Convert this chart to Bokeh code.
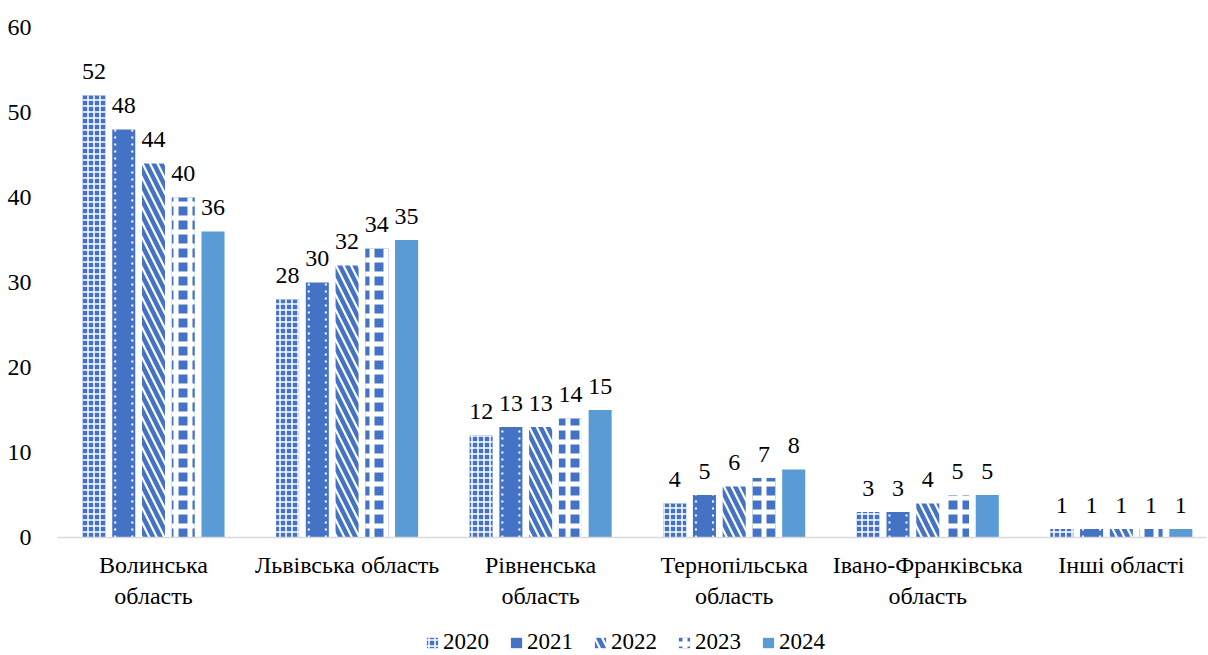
from bokeh.plotting import figure
from bokeh.layouts import column
from bokeh.models import ColumnDataSource, Range1d, FixedTicker, Legend, LegendItem
from bokeh.core.properties import value
from bokeh.embed import file_html
from bokeh.resources import INLINE

categories = ["Волинська\nобласть", "Львівська область", "Рівненська\nобласть",
              "Тернопільська\nобласть", "Івано-Франківська\nобласть", "Інші області"]
years = ["2020", "2021", "2022", "2023", "2024"]
v2020 = [52, 28, 12, 4, 3, 1]
v2021 = [48, 30, 13, 5, 3, 1]
v2022 = [44, 32, 13, 6, 4, 1]
v2023 = [40, 34, 14, 7, 5, 1]
v2024 = [36, 35, 15, 8, 5, 1]
series = [v2020, v2021, v2022, v2023, v2024]
y_ticks = [0, 10, 20, 30, 40, 50, 60]

FONT = "Times New Roman"
BLUE = "#4472C4"
LIGHT = "#5B9BD5"

p = figure(width=1208, height=615, output_backend="svg", toolbar_location=None,
           x_range=Range1d(-0.496, 5.44), y_range=Range1d(0, 60),
           min_border_left=57, min_border_right=2, min_border_top=27, min_border_bottom=78)
p.outline_line_color = None
p.xgrid.grid_line_color = None
p.ygrid.grid_line_color = None

styles = [
    dict(fill_color=BLUE, hatch_pattern="cross", hatch_color="white", hatch_scale=6, hatch_weight=1.5),
    dict(fill_color=BLUE),
    dict(fill_color="white", hatch_pattern="left_diagonal_line", hatch_color=BLUE, hatch_scale=15, hatch_weight=4.5),
    dict(fill_color=BLUE, hatch_pattern="cross", hatch_color="white", hatch_scale=14, hatch_weight=5),
    dict(fill_color=LIGHT),
]

# legend strip below the chart
lf = figure(width=1208, height=40, output_backend="svg", toolbar_location=None,
            x_range=Range1d(0, 1), y_range=Range1d(0, 1),
            min_border_left=0, min_border_right=0, min_border_top=0, min_border_bottom=0)
lf.axis.visible = False
lf.grid.visible = False
lf.outline_line_color = None

step = 0.1537
bw = 0.119
xs = list(range(len(categories)))
items = []
for k, (yr, vals) in enumerate(zip(years, series)):
    off = (k - 2) * step
    src = ColumnDataSource(dict(x=[i + off for i in xs], top=vals, lab=[str(v) for v in vals]))
    p.vbar(x="x", top="top", width=bw, source=src, line_color=None, **styles[k])
    r = lf.vbar(x=[-10], top=[0], width=0.1, line_color=None, **styles[k])
    items.append(LegendItem(label=yr, renderers=[r]))
    if k == 1:
        d = 3.0 / 193.6
        for side in (-1, 1):
            p.segment(x0=[i + off + side * (bw / 2 - d) for i in xs], y0=[0] * len(xs),
                      x1=[i + off + side * (bw / 2 - d) for i in xs], y1=vals,
                      line_color="white", line_width=2, line_dash="2 5")
    p.text(x="x", y="top", text="lab", source=src, text_align="center",
           text_baseline="alphabetic", y_offset=-24, text_font=value(FONT),
           text_font_size="24px", text_color="#000000")

p.yaxis.ticker = FixedTicker(ticks=y_ticks)
p.yaxis.axis_line_color = None
p.yaxis.major_tick_line_color = None
p.yaxis.minor_tick_line_color = None
p.yaxis.major_label_text_font = FONT
p.yaxis.major_label_text_font_size = "24px"
p.yaxis.major_label_text_color = "#000000"
p.yaxis.major_label_standoff = 20

p.xaxis.ticker = FixedTicker(ticks=xs)
p.xaxis.major_label_overrides = {i: c for i, c in enumerate(categories)}
p.xaxis.axis_line_color = "#D9D9D9"
p.xaxis.axis_line_width = 1.5
p.xaxis.major_tick_line_color = None
p.xaxis.minor_tick_line_color = None
p.xaxis.major_label_text_font = FONT
p.xaxis.major_label_text_font_size = "24px"
p.xaxis.major_label_text_color = "#000000"
p.xaxis.major_label_standoff = 8

legend = Legend(items=items, orientation="horizontal", location=(368, 0),
                glyph_width=14, glyph_height=13, label_standoff=4, spacing=20,
                padding=0, margin=0, border_line_color=None, background_fill_alpha=0,
                label_text_font=FONT, label_text_font_size="23px", label_text_color="#000000",
                label_height=22)
lf.add_layout(legend, "center")

open("out.html", "w").write(file_html(column(p, lf), INLINE))
